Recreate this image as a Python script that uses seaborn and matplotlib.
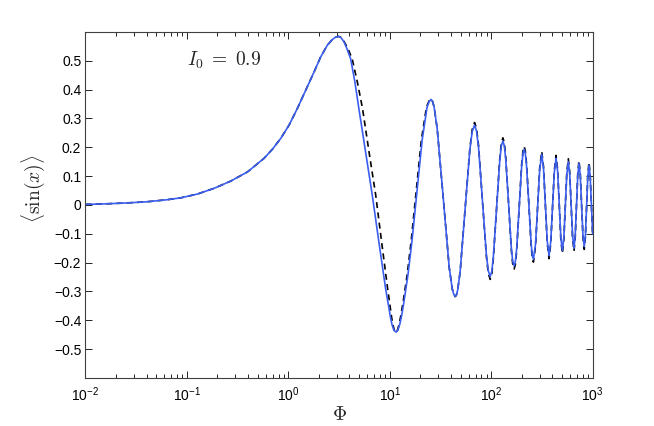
import numpy as np
import pandas as pd
import matplotlib
matplotlib.use("Agg")
import matplotlib.pyplot as plt
import seaborn as sns

# log10(Phi) and <sin(x)>, solid blue curve
logphi_solid = [-2.00, -1.80, -1.60, -1.40, -1.20, -1.058, -0.896, -0.731, -0.567, -0.402,
                -0.239, -0.156, -0.075, 0.007, 0.089, 0.171, 0.253, 0.318, 0.384, 0.434,
                0.466, 0.493, 0.52, 0.55, 0.58, 0.614, 0.656, 0.695, 0.761, 0.827,
                0.892, 0.958, 0.985, 1.007, 1.022, 1.040, 1.063, 1.080, 1.100, 1.120,
                1.140, 1.180, 1.220, 1.269, 1.319, 1.368, 1.390, 1.407, 1.422, 1.437,
                1.467, 1.527, 1.586, 1.616, 1.631, 1.646, 1.658, 1.670, 1.694, 1.741,
                1.789, 1.812, 1.836, 1.855, 1.875, 1.913, 1.952, 1.971, 1.990, 2.006,
                2.021, 2.053, 2.084, 2.099, 2.115, 2.129, 2.143, 2.171, 2.198, 2.212,
                2.226, 2.238, 2.251, 2.276, 2.300, 2.313, 2.325, 2.336, 2.348, 2.371,
                2.393, 2.405, 2.416, 2.437, 2.457, 2.478, 2.498, 2.516, 2.534, 2.552,
                2.570, 2.587, 2.605, 2.622, 2.639, 2.655, 2.670, 2.686, 2.701, 2.716,
                2.731, 2.745, 2.760, 2.774, 2.788, 2.802, 2.816, 2.828, 2.841, 2.853,
                2.865, 2.878, 2.891, 2.904, 2.917, 2.929, 2.941, 2.952, 2.964, 2.976,
                2.988, 3.000]
sin_solid = [0.002, 0.004, 0.007, 0.011, 0.018, 0.025, 0.038, 0.058, 0.083, 0.115,
             0.162, 0.194, 0.231, 0.277, 0.335, 0.398, 0.461, 0.513, 0.554, 0.574,
             0.582, 0.585, 0.580, 0.565, 0.540, 0.507, 0.427, 0.335, 0.185, 0.035,
             -0.127, -0.288, -0.345, -0.390, -0.415, -0.434, -0.441, -0.434, -0.412, -0.378,
             -0.335, -0.240, -0.121, 0.052, 0.225, 0.340, 0.360, 0.366, 0.359, 0.340,
             0.266, 0.025, -0.217, -0.291, -0.310, -0.317, -0.311, -0.294, -0.230, -0.020,
             0.190, 0.254, 0.277, 0.257, 0.200, 0.015, -0.171, -0.228, -0.248, -0.230,
             -0.179, -0.013, 0.153, 0.204, 0.222, 0.206, 0.159, 0.006, -0.148, -0.195,
             -0.211, -0.196, -0.152, -0.009, 0.134, 0.178, 0.193, 0.179, 0.137, 0.003,
             -0.132, -0.174, -0.188, -0.135, -0.006, 0.123, 0.176, 0.124, 0.000, -0.124,
             -0.176, -0.126, -0.007, 0.112, 0.162, 0.115, 0.002, -0.111, -0.158, -0.113,
             -0.004, 0.105, 0.150, 0.106, 0.000, -0.106, -0.150, -0.107, -0.003, 0.101,
             0.144, 0.102, 0.000, -0.102, -0.144, -0.103, -0.003, 0.097, 0.138, 0.095,
             0.000, -0.100]

# dashed black curve
logphi_dashed = [-2.00, -1.80, -1.60, -1.40, -1.20, -1.058, -0.896, -0.731, -0.567, -0.402,
                 -0.239, -0.156, -0.075, 0.007, 0.089, 0.171, 0.253, 0.318, 0.384, 0.434,
                 0.466, 0.493, 0.52, 0.55, 0.59, 0.629, 0.68, 0.731, 0.795, 0.861,
                 0.919, 0.978, 1.000, 1.019, 1.032, 1.046, 1.063, 1.076, 1.093, 1.112,
                 1.132, 1.172, 1.212, 1.261, 1.311, 1.362, 1.386, 1.407, 1.422, 1.437,
                 1.467, 1.527, 1.586, 1.616, 1.631, 1.646, 1.658, 1.670, 1.694, 1.741,
                 1.789, 1.812, 1.836, 1.855, 1.875, 1.913, 1.952, 1.971, 1.990, 2.006,
                 2.021, 2.053, 2.084, 2.099, 2.115, 2.129, 2.143, 2.171, 2.198, 2.212,
                 2.226, 2.238, 2.251, 2.276, 2.300, 2.313, 2.325, 2.336, 2.348, 2.371,
                 2.393, 2.405, 2.416, 2.437, 2.457, 2.478, 2.498, 2.516, 2.534, 2.552,
                 2.570, 2.587, 2.605, 2.622, 2.639, 2.655, 2.670, 2.686, 2.701, 2.716,
                 2.731, 2.745, 2.760, 2.774, 2.788, 2.802, 2.816, 2.828, 2.841, 2.853,
                 2.865, 2.878, 2.891, 2.904, 2.917, 2.929, 2.941, 2.952, 2.964, 2.976,
                 2.988, 3.000]
sin_dashed = [0.002, 0.004, 0.007, 0.011, 0.018, 0.025, 0.038, 0.058, 0.083, 0.115,
              0.162, 0.194, 0.231, 0.277, 0.335, 0.398, 0.461, 0.513, 0.554, 0.574,
              0.582, 0.585, 0.581, 0.567, 0.540, 0.507, 0.427, 0.335, 0.185, 0.035,
              -0.127, -0.288, -0.345, -0.392, -0.417, -0.436, -0.443, -0.434, -0.412, -0.378,
              -0.335, -0.240, -0.121, 0.052, 0.225, 0.340, 0.360, 0.368, 0.359, 0.340,
              0.266, 0.025, -0.217, -0.291, -0.311, -0.318, -0.311, -0.294, -0.230, -0.020,
              0.194, 0.261, 0.286, 0.266, 0.206, 0.015, -0.177, -0.237, -0.258, -0.239,
              -0.186, -0.013, 0.160, 0.213, 0.233, 0.216, 0.166, 0.006, -0.155, -0.205,
              -0.222, -0.206, -0.159, -0.009, 0.141, 0.187, 0.203, 0.188, 0.144, 0.003,
              -0.139, -0.183, -0.198, -0.142, -0.006, 0.130, 0.186, 0.131, 0.000, -0.131,
              -0.186, -0.133, -0.007, 0.119, 0.172, 0.122, 0.002, -0.118, -0.168, -0.120,
              -0.004, 0.112, 0.160, 0.113, 0.000, -0.113, -0.160, -0.114, -0.003, 0.108,
              0.154, 0.109, 0.000, -0.109, -0.154, -0.110, -0.003, 0.104, 0.148, 0.102,
              0.000, -0.107]

ytick_vals = [-0.5, -0.4, -0.3, -0.2, -0.1, 0, 0.1, 0.2, 0.3, 0.4, 0.5]
ytick_labels = ["\u22120.5", "\u22120.4", "\u22120.3", "\u22120.2", "\u22120.1", "0",
                "0.1", "0.2", "0.3", "0.4", "0.5"]

sns.set_style("ticks")
plt.rcParams["font.family"] = ["Liberation Sans", "DejaVu Sans"]
plt.rcParams["mathtext.fontset"] = "cm"

df_solid = pd.DataFrame({"phi": 10 ** np.array(logphi_solid), "val": sin_solid})
df_dashed = pd.DataFrame({"phi": 10 ** np.array(logphi_dashed), "val": sin_dashed})

fig = plt.figure(figsize=(6.54, 4.26), dpi=100)
ax = fig.add_axes([0.1307, 0.1127, 0.7755, 0.8122])

sns.lineplot(data=df_dashed, x="phi", y="val", ax=ax, color="black",
             linestyle=(0, (3.6, 2.6)), linewidth=1.2, errorbar=None)
sns.lineplot(data=df_solid, x="phi", y="val", ax=ax, color="#3a5ef0",
             linewidth=1.2, errorbar=None)

ax.set_xscale("log")
ax.set_xlim(1e-2, 1e3)
ax.set_ylim(-0.6, 0.6)
ax.set_yticks(ytick_vals)
ax.set_yticklabels(ytick_labels)
ax.tick_params(which="both", direction="in", top=True, right=True,
               labelsize=10, colors="black", width=0.6)
ax.tick_params(which="major", length=5)
ax.tick_params(axis="y", which="major", pad=3)
ax.tick_params(axis="x", which="major", pad=5)
ax.tick_params(which="minor", length=3)
for s in ax.spines.values():
    s.set_color("#404040")
    s.set_linewidth(0.8)

ax.set_xlabel(r"$\Phi$", fontsize=14, labelpad=2)
ax.set_ylabel(r"$\langle \sin(x) \rangle$", fontsize=14)
ax.yaxis.set_label_coords(-0.076, 0.546)
ax.text(0.1, 0.50, r"$I_0\;=\;0.9$", fontsize=14, ha="left", va="center")

fig.savefig("out.png", dpi=100)
